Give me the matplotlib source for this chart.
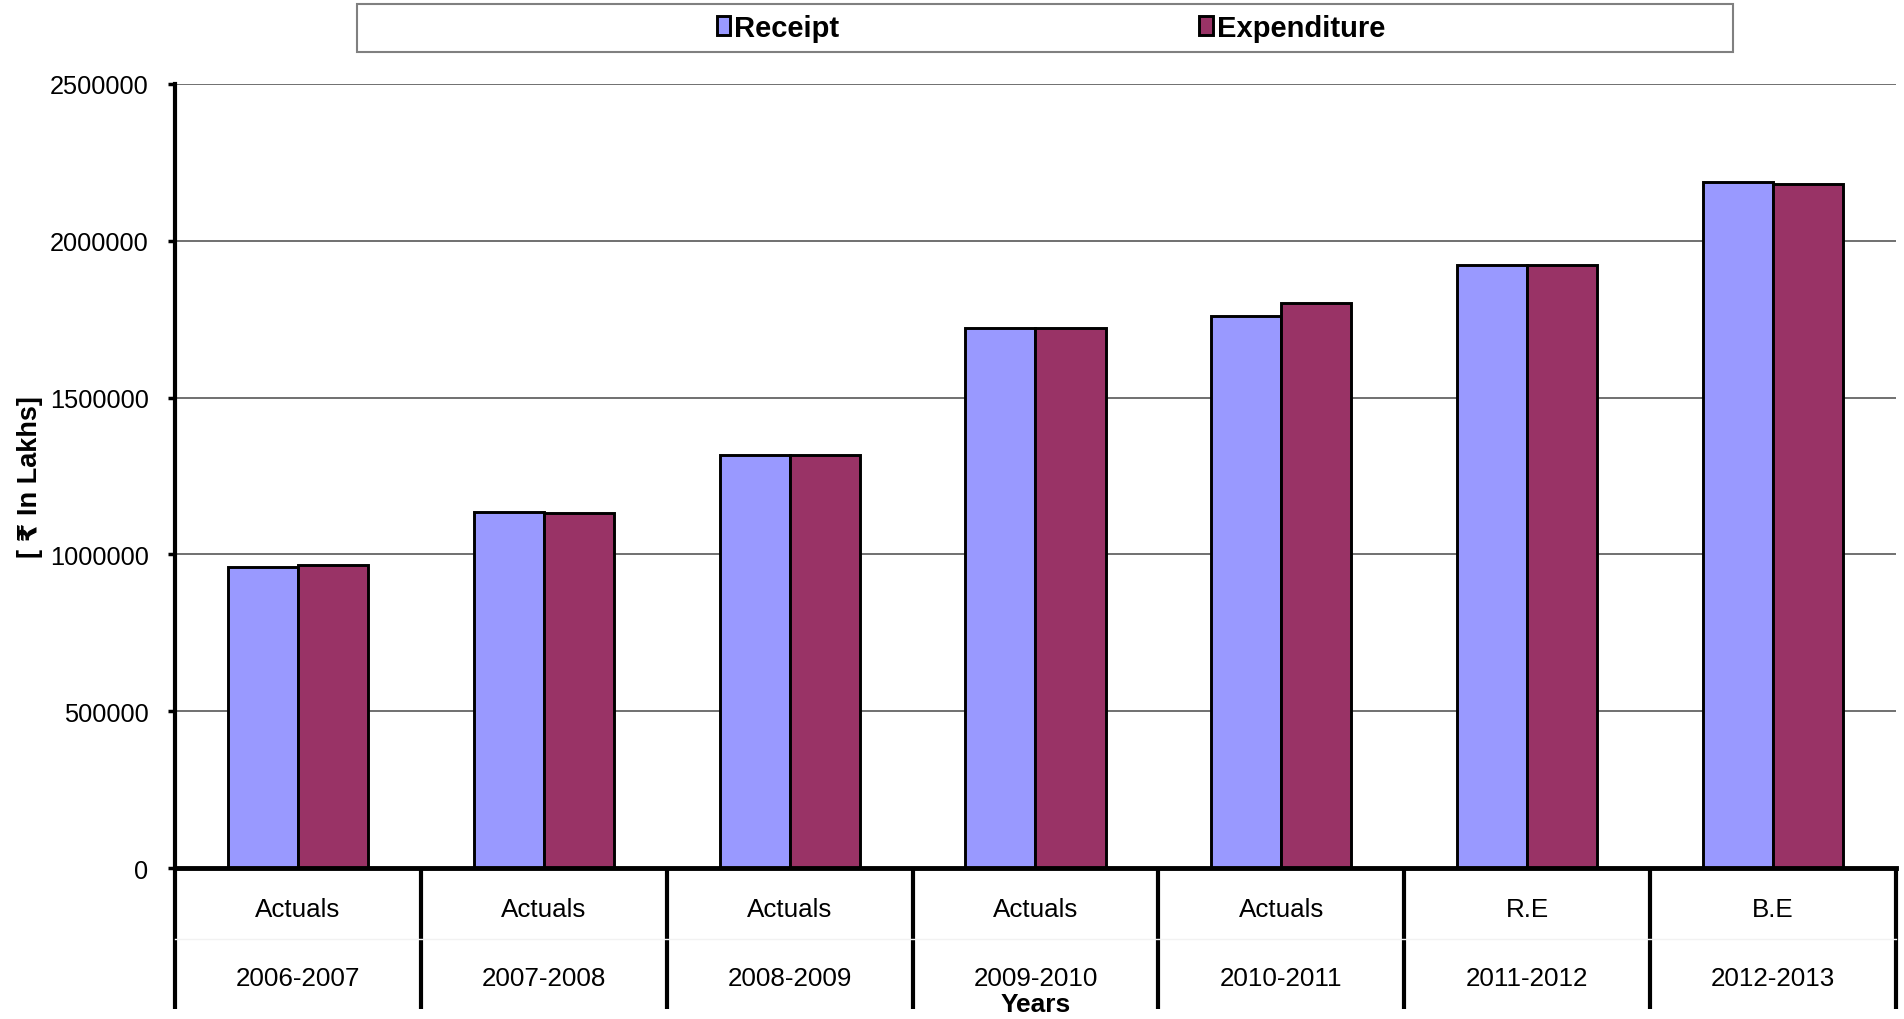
import matplotlib
matplotlib.use('Agg')
import matplotlib.pyplot as plt
from matplotlib.patches import Rectangle
import numpy as np

plt.rcParams['font.family'] = ['Liberation Sans', 'DejaVu Sans']

years = ['2006-2007', '2007-2008', '2008-2009', '2009-2010', '2010-2011', '2011-2012', '2012-2013']
stages = ['Actuals', 'Actuals', 'Actuals', 'Actuals', 'Actuals', 'R.E', 'B.E']
receipt = [959000, 1134000, 1318000, 1721000, 1759000, 1922000, 2186000]
expenditure = [966000, 1133000, 1317000, 1723000, 1802000, 1924000, 2180000]

fig = plt.figure(figsize=(19.04, 10.20), dpi=100)
ax = fig.add_axes([0.0919, 0.148, 0.9039, 0.7687])

x = np.arange(len(years))
w = 0.285
ax.bar(x - w / 2, receipt, w, color='#9999FF', edgecolor='black', linewidth=2.1, label='Receipt', zorder=3)
ax.bar(x + w / 2, expenditure, w, color='#993366', edgecolor='black', linewidth=2.1, label='Expenditure', zorder=3)

ax.set_xlim(-0.5, len(years) - 0.5)
ax.set_ylim(0, 2500000)
ax.set_yticks(range(0, 2500001, 500000))
ax.set_yticklabels([str(v) for v in range(0, 2500001, 500000)])
ax.yaxis.grid(True, color='#707070', linewidth=1.4, zorder=0)
ax.tick_params(axis='y', direction='out', length=5, width=2.5, pad=14, labelsize=18.3)
ax.set_xticks([])

for s in ['top', 'right']:
    ax.spines[s].set_visible(False)
ax.spines['left'].set_linewidth(3)
ax.spines['bottom'].set_linewidth(3.5)
ax.spines['bottom'].set_zorder(4)

# category separators below the axis
for b in np.arange(-0.5, len(years), 1.0):
    ax.plot([b, b], [0, -0.18], transform=ax.get_xaxis_transform(), color='black',
            linewidth=3, clip_on=False, solid_capstyle='butt')
ax.plot([-0.5, len(years) - 0.5], [-0.09, -0.09], transform=ax.get_xaxis_transform(),
        color='#f2f2f2', linewidth=1, clip_on=False)

for i in range(len(years)):
    ax.text(i, -0.052, stages[i], transform=ax.get_xaxis_transform(), ha='center', va='center', fontsize=18.7)
    ax.text(i, -0.140, years[i], transform=ax.get_xaxis_transform(), ha='center', va='center', fontsize=18.7)

ax.text(0.5, -0.174, 'Years', transform=ax.transAxes, ha='center', va='center',
        fontsize=19, fontweight='bold')
ax.text(-0.0845, 0.5, '[ \u20b9 In Lakhs]', transform=ax.transAxes, ha='center', va='center',
        rotation=90, fontsize=19.5, fontweight='bold')

# legend box across the top
fig.patches.append(Rectangle((357 / 1904, 1 - 53 / 1020), (1733 - 357) / 1904, 48 / 1020,
                             transform=fig.transFigure, facecolor='white', edgecolor='#808080',
                             linewidth=1.5))
leg = fig.legend(loc='center', bbox_to_anchor=(1051 / 1904, 1 - 29 / 1020), ncol=2, frameon=False,
                 prop={'weight': 'bold', 'size': 21}, handlelength=0.45, handleheight=0.6,
                 handletextpad=0.15, columnspacing=12.35)

fig.savefig('out.png', dpi=100)
